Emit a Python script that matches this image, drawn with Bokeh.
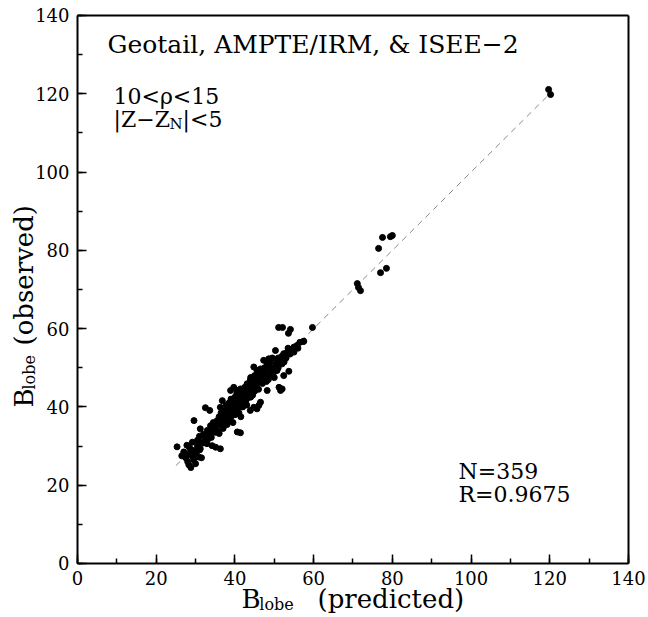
import math
from bokeh.plotting import figure
from bokeh.models import Range1d, SingleIntervalTicker, FixedTicker, Label, LinearAxis
from bokeh.embed import file_html
from bokeh.resources import INLINE

# ---- data (B_lobe predicted vs observed, nT) ----
pred = [
    25.3, 26.5, 27.0, 27.5, 28.0, 28.3, 28.8, 29.0, 29.5, 28.5, 29.8, 30.2, 27.8, 29.2, 30.5,
    31.0, 30.0, 31.5, 28.0, 29.0, 30.8, 31.2, 32.9, 34.2, 35.1, 36.3, 29.6, 32.5, 33.6, 31.2,
    30.5, 31.0, 31.5, 32.0, 32.0, 32.5, 33.0, 33.0, 33.5, 33.8, 34.0, 34.5, 34.5, 35.0, 35.0,
    35.5, 35.5, 36.0, 36.0, 36.0, 36.5, 36.5, 37.0, 37.0, 37.0, 37.5, 37.5, 37.8, 38.0, 38.0,
    38.0, 38.5, 38.5, 38.5, 39.0, 39.0, 39.0, 39.5, 39.5, 39.5, 40.0, 40.0, 40.0, 40.5, 40.5,
    40.5, 41.0, 41.0, 41.0, 41.5, 41.5, 41.5, 42.0, 42.0, 42.0, 42.5, 42.5, 42.5, 43.0, 43.0,
    43.0, 43.5, 43.5, 44.0, 44.0, 44.0, 44.5, 44.5, 45.0, 45.0, 45.0, 45.5, 45.5, 46.0, 46.0,
    46.0, 46.5, 47.0, 47.0, 47.5, 47.5, 48.0, 48.0, 48.5, 48.5, 49.0, 49.0, 49.5, 49.5, 50.0,
    50.0, 50.5, 51.0, 51.0, 51.5, 52.0, 52.5, 53.0, 53.5, 54.0, 55.0, 56.0, 56.5,
    40.6, 41.4, 43.9, 44.8, 46.1, 45.6, 46.5, 48.2, 51.2, 51.6, 52.0, 53.7, 52.4, 50.7, 49.9,
    50.3, 52.4, 53.3, 54.1, 55.0, 55.8, 57.5, 47.3, 48.6, 50.7, 52.0, 52.4, 44.8, 45.6, 46.5,
    47.3, 48.2, 49.0, 43.1, 43.9, 44.8, 38.9, 39.7, 40.6, 41.4, 36.8, 36.3, 51.1, 52.1, 54.1,
    53.6, 59.7, 57.4,
    71.1, 71.4, 71.9, 76.5, 77.5, 79.5, 80.0, 77.0, 78.5, 119.7, 120.2,
]
obs = [
    29.8, 27.5, 28.5, 27.0, 26.0, 25.2, 24.5, 27.5, 26.5, 29.5, 28.8, 27.8, 30.2, 31.0, 30.0,
    29.0, 25.5, 27.0, 28.0, 29.0, 27.2, 29.3, 30.6, 30.1, 29.7, 29.3, 36.5, 39.8, 39.1, 34.4,
    31.5, 32.5, 31.0, 33.0, 30.8, 32.0, 34.0, 31.5, 33.0, 35.2, 32.2, 34.0, 36.0, 33.5, 35.0,
    36.5, 34.0, 37.5, 35.5, 33.2, 36.0, 38.5, 37.0, 34.5, 39.0, 36.0, 38.0, 40.5, 37.0, 39.2,
    35.5, 38.5, 41.0, 36.5, 40.0, 37.5, 42.0, 39.0, 41.0, 36.0, 40.5, 38.0, 42.5, 39.5, 41.5,
    43.5, 40.0, 42.0, 38.5, 41.0, 43.0, 37.5, 42.0, 40.0, 44.0, 41.5, 43.0, 45.0, 42.0, 44.0,
    40.5, 43.5, 45.5, 44.0, 42.5, 47.5, 45.0, 43.0, 46.0, 48.0, 44.0, 45.5, 47.0, 46.5, 48.5,
    44.5, 47.5, 46.0, 49.0, 47.5, 50.0, 48.0, 46.5, 49.5, 47.0, 48.0, 51.5, 49.0, 52.5, 50.0,
    47.5, 51.0, 50.0, 52.5, 51.5, 53.0, 51.5, 52.5, 55.0, 53.5, 54.0, 55.0, 56.5,
    33.6, 33.4, 39.1, 39.9, 40.4, 39.5, 41.2, 44.2, 45.0, 44.2, 44.6, 49.1, 48.0, 49.3, 48.9,
    54.4, 53.6, 54.0, 54.4, 55.3, 55.7, 56.8, 51.9, 52.3, 51.4, 51.0, 52.0, 50.2, 49.3, 49.7,
    48.9, 51.0, 50.2, 45.9, 46.8, 46.3, 44.2, 45.0, 44.2, 44.6, 41.6, 39.9, 60.3, 60.3, 59.8,
    58.8, 60.3, 56.7,
    71.5, 70.5, 69.7, 80.5, 83.3, 83.5, 83.8, 74.3, 75.4, 121.1, 119.8,
]
line_x = [25, 120]
line_y = [25, 120]
axis_min, axis_max = 0, 140

title_text = "Geotail,  AMPTE/IRM,  &  ISEE−2"
cond1 = "10<ρ<15"
stats = ["N=359", "R=0.9675"]

FONT = "DejaVu Serif"

# frame covers the whole canvas; the box 0..140 is drawn with fixed-location axes
p = figure(width=648, height=617, output_backend="svg", toolbar_location=None,
           x_range=Range1d(-19.56, 145.08), y_range=Range1d(-13.80, 143.83),
           min_border=0)
p.min_border_left = 0
p.min_border_right = 0
p.min_border_top = 0
p.min_border_bottom = 0
p.background_fill_color = "white"
p.border_fill_color = "white"
p.outline_line_color = None
p.xgrid.visible = False
p.ygrid.visible = False

for ax in (p.xaxis[0], p.yaxis[0]):
    ax.fixed_location = 0
    ax.bounds = (axis_min, axis_max)
    ax.ticker = SingleIntervalTicker(interval=20, num_minor_ticks=2)
    ax.major_tick_in = 9
    ax.major_tick_out = 0
    ax.minor_tick_in = 5
    ax.minor_tick_out = 0
    ax.axis_line_width = 2
    ax.major_tick_line_width = 1.5
    ax.minor_tick_line_width = 1.5
    ax.major_label_text_font = FONT
    ax.major_label_text_font_size = "18px"
    ax.major_label_text_color = "black"
    ax.major_label_standoff = 8
    ax.axis_label = None

for place in ("above", "right"):
    box_ax = LinearAxis(fixed_location=axis_max, bounds=(axis_min, axis_max),
                        ticker=FixedTicker(ticks=[]), axis_line_width=2,
                        major_tick_in=0, major_tick_out=0, minor_tick_in=0, minor_tick_out=0)
    p.add_layout(box_ax, place)

p.line(line_x, line_y, line_color="#888888", line_width=1, line_dash="6 5")
p.scatter(pred, obs, size=6, marker="circle", fill_color="black", line_color="black")

def lab(x, y, text, size, angle=0.0, align="left"):
    p.add_layout(Label(x=x, y=y, text=text, text_font=FONT, text_font_size=size,
                       text_color="black", angle=angle, text_align=align,
                       text_baseline="alphabetic"))

lab(7.62, 132.5, title_text, "25px")
lab(9.15, 119.3, cond1, "22px")
lab(9.15, 113.5, "|Z−Z", "22px")
lab(23.4, 112.4, "N", "15px")
lab(26.7, 113.5, "|<5", "22px")
lab(96.8, 23.5, stats[0], "22px")
lab(96.8, 17.5, stats[1], "22px")

# x axis label
lab(41.67, -9.2, "B", "26px")
lab(46.2, -10.46, "lobe", "16px")
lab(60.98, -9.2, "(predicted)", "26px")
# y axis label (rotated)
a = math.pi / 2
lab(-13.6, 39.85, "B", "26px", angle=a)
lab(-12.3, 44.45, "lobe", "16px", angle=a)
lab(-13.6, 55.7, "(observed)", "26px", angle=a)

open("out.html", "w").write(file_html(p, INLINE))
